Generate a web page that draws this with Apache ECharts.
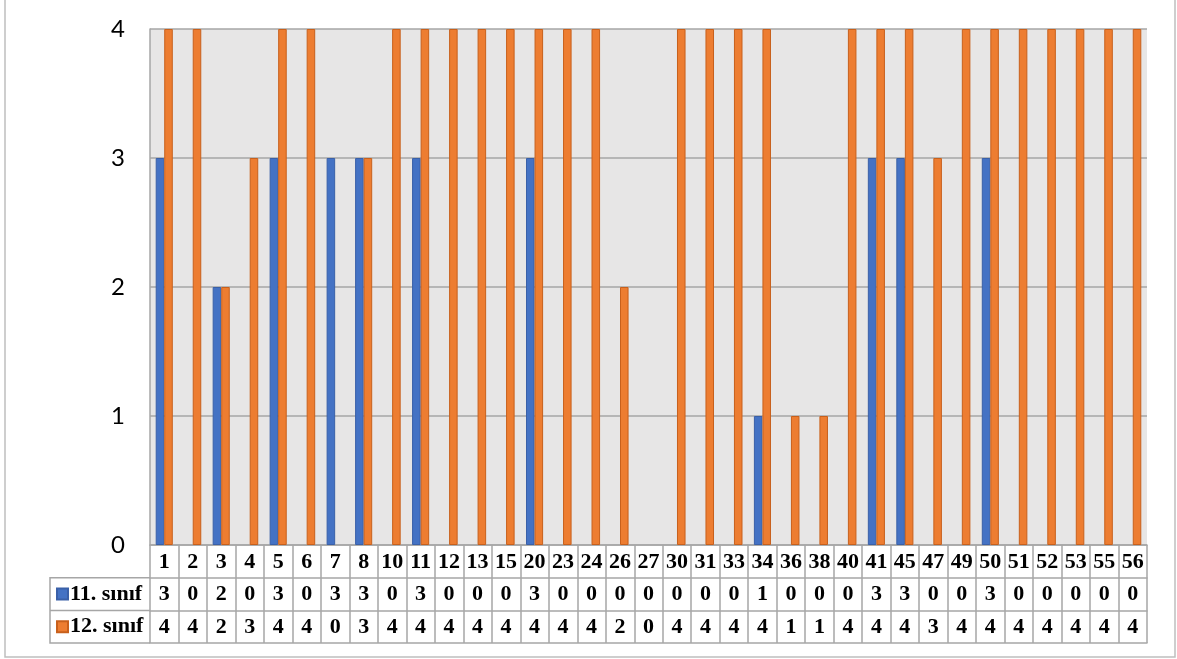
<!DOCTYPE html>
<html>
<head>
<meta charset="utf-8">
<script src="https://cdn.jsdelivr.net/npm/echarts@6/dist/echarts.min.js"></script>
<style>
  html, body { margin: 0; padding: 0; background: #ffffff; }
  #chart { width: 1177px; height: 659px; }
</style>
</head>
<body>
<div id="chart"></div>
<script>
// Question numbers along the category axis
const questions = ['1','2','3','4','5','6','7','8','10','11','12','13','15','20','23','24','26','27','30','31','33','34','36','38','40','41','45','47','49','50','51','52','53','55','56'];
// Scores per question for each grade
const grade11 = [3,0,2,0,3,0,3,3,0,3,0,0,0,3,0,0,0,0,0,0,0,1,0,0,0,3,3,0,0,3,0,0,0,0,0];
const grade12 = [4,4,2,3,4,4,0,3,4,4,4,4,4,4,4,4,2,0,4,4,4,4,1,1,4,4,4,3,4,4,4,4,4,4,4];
const seriesNames = ['11. sınıf', '12. sınıf'];
const yTicks = [0, 1, 2, 3, 4];

const lineGray = '#a6a6a6';
const tableFont = { fontFamily: 'Liberation Serif', fontWeight: 'bold', fontSize: 22, lineHeight: 22, color: '#000' };
const rowH = 32.7;

const chart = echarts.init(document.getElementById('chart'), null, { renderer: 'canvas' });

// One x axis per table row: the category row, then one value row per series,
// then a bare line closing the table at the bottom.
function tableAxis(offset, labels, withTicks, showLabel) {
  return {
    type: 'category',
    data: questions,
    gridIndex: 0,
    position: 'bottom',
    offset: offset,
    boundaryGap: true,
    axisLine: { show: true, lineStyle: { color: lineGray, width: 1.5 } },
    axisTick: { show: withTicks, interval: 0, length: rowH, alignWithLabel: false,
                lineStyle: { color: lineGray, width: 1.5 } },
    axisLabel: Object.assign({ show: showLabel, interval: 0, margin: 6,
                formatter: (v, i) => String(labels[i]) }, tableFont),
    splitLine: { show: false }
  };
}

// zero scores get no outline so nothing shows on the base line
function barData(values) {
  return values.map(v => v === 0 ? { value: v, itemStyle: { borderWidth: 0 } } : v);
}

const option = {
  backgroundColor: '#ffffff',
  animation: false,
  grid: { left: 150, right: 30, top: 29, bottom: 114, show: true,
          backgroundColor: '#e7e6e6', borderWidth: 0 },
  legend: {
    orient: 'vertical',
    left: 56, top: 583,
    padding: 0,
    itemGap: rowH - 22,
    itemWidth: 11, itemHeight: 11,
    icon: 'rect',
    selectedMode: false,
    data: seriesNames,
    textStyle: Object.assign({ padding: [0, 0, 0, -3] }, tableFont)
  },
  xAxis: [
    tableAxis(0, questions, true, true),
    tableAxis(rowH, grade11, true, true),
    tableAxis(rowH * 2, grade12, true, true),
    tableAxis(rowH * 3, questions, false, false)
  ],
  yAxis: {
    type: 'value',
    min: 0, max: 4, interval: 1,
    axisLine: { show: true, lineStyle: { color: lineGray, width: 1.5 } },
    axisTick: { show: false },
    axisLabel: { fontFamily: 'Lato', fontSize: 24, color: '#000', margin: 25,
                 formatter: v => String(yTicks[v]) },
    splitLine: { show: true, lineStyle: { color: lineGray, width: 1.5 } }
  },
  series: [
    {
      name: seriesNames[0], type: 'bar', xAxisIndex: 0,
      data: barData(grade11), barWidth: '30%', barGap: '0%',
      itemStyle: { color: '#4472c4', borderColor: '#3a60a8', borderWidth: 1 }
    },
    {
      name: seriesNames[1], type: 'bar', xAxisIndex: 0,
      data: barData(grade12), barWidth: '30%', barGap: '0%',
      itemStyle: { color: '#ed7d31', borderColor: '#c8601c', borderWidth: 1 }
    }
  ],
  graphic: [
    // outer frame of the chart area
    { type: 'rect', silent: true, z: 0,
      shape: { x: 5, y: -5, width: 1170, height: 662 },
      style: { fill: null, stroke: '#bfbfbf', lineWidth: 1.5 } },
    // legend cells to the left of the value rows
    { type: 'polyline', silent: true, z: 5,
      shape: { points: [[150, 545 + rowH], [50, 545 + rowH], [50, 545 + rowH * 3], [150, 545 + rowH * 3]] },
      style: { fill: null, stroke: lineGray, lineWidth: 1.5 } },
    { type: 'line', silent: true, z: 5,
      shape: { x1: 50, y1: 545 + rowH * 2, x2: 150, y2: 545 + rowH * 2 },
      style: { stroke: lineGray, lineWidth: 1.5 } }
  ]
};

chart.setOption(option);
</script>
</body>
</html>
